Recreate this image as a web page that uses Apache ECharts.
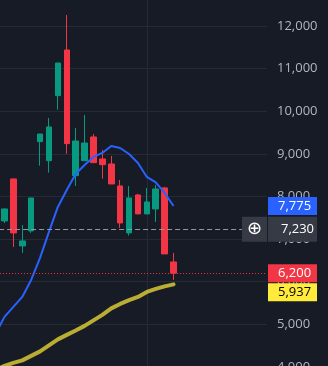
<!DOCTYPE html>
<html>
<head>
<meta charset="utf-8">
<script src="https://cdn.jsdelivr.net/npm/echarts@6/dist/echarts.min.js"></script>
<style>
html,body{margin:0;padding:0;background:#171b26;}
#chart{width:328px;height:366px;}
</style>
</head>
<body>
<div id="chart"></div>
<script>
// Candles (one per bar)
const openVals  = [7425, 8411, 6839, 7191, 9286, 8840, 10365, 11437, 8488, 8840, 9396, 8880, 8762, 8246, 7144, 8035, 7590, 7707, 8200, 6463];
const closeVals = [7707, 7144, 6956, 7965, 9466, 9631, 11132, 9239, 9302, 9255, 8793, 8746, 8293, 7378, 7965, 7590, 7871, 8176, 6651, 6200];
const lowVals   = [7378, 6815, 6675, 7144, 8723, 8558, 10036, 9004, 8246, 8840, 8793, 8418, 8293, 7261, 7080, 7590, 7590, 7402, 6651, 6041];
const highVals  = [7720, 8420, 7331, 7965, 9466, 9842, 11132, 12258, 9607, 9912, 9466, 9091, 8950, 8387, 8246, 8059, 8200, 8270, 8223, 6675];
// Moving averages: first value belongs to the bar just left of the visible window
const maFast = [4774, 5173, 5408, 5642, 6041, 6557, 7167, 7754, 8153, 8528, 8739, 8927, 9021, 9185, 9138, 8997, 8786, 8458, 8329, 8082, 7775];
const maSlow = [3930, 4024, 4094, 4153, 4258, 4364, 4505, 4645, 4751, 4856, 4962, 5091, 5220, 5373, 5478, 5565, 5642, 5760, 5830, 5889, 5937];
const emptyBarsRight = 10;
const yTicks = [3000, 4000, 5000, 6000, 7000, 8000, 9000, 10000, 11000, 12000, 13000];
const lastPrice = 6200;
const crosshairPrice = 7230;
const timeGridBar = 16;

const fmt = v => Number(v).toLocaleString('en-US');
const totalBars = 1 + openVals.length + emptyBarsRight;
const categories = Array.from({length: totalBars}, (_, i) => String(i - 1));
const candleData = [['-', '-', '-', '-']].concat(openVals.map((o, i) => [o, closeVals[i], lowVals[i], highVals[i]]));
const FONT = 'Open Sans';
const HIDDEN = 'rgba(0,0,0,0)';

function boxLabel(bg, fg, offY) {
  return {
    show: true, position: 'end', distance: 1, offset: [0, offY || 0],
    formatter: p => '{v|' + fmt(p.value) + '}',
    rich: { v: { backgroundColor: bg, color: fg, fontSize: 13, fontFamily: FONT, width: 39, height: 18, lineHeight: 18, padding: [0, 0, 0, 10], align: 'left' } }
  };
}

const chart = echarts.init(document.getElementById('chart'), null, {renderer: 'canvas'});
chart.setOption({
  animation: false,
  backgroundColor: '#171b26',
  grid: { left: -8.9, right: 61, top: -16.6, height: 426.1, containLabel: false, outerBoundsMode: 'none' },
  xAxis: {
    type: 'category', data: categories, boundaryGap: true,
    axisLine: {show: false}, axisTick: {show: false}, axisLabel: {show: false}, splitLine: {show: false}
  },
  yAxis: {
    type: 'value', position: 'right', min: yTicks[0], max: yTicks[yTicks.length - 1], interval: 1000,
    axisLine: {show: false}, axisTick: {show: false},
    axisLabel: { color: '#b2b5be', fontSize: 13, fontFamily: FONT, margin: 10, formatter: v => fmt(v) },
    splitLine: { lineStyle: { color: '#262a35', width: 1 } }
  },
  series: [
    {
      type: 'line', data: [], z: 0,
      markLine: {
        z: 1, silent: true, symbol: ['none', 'none'],
        label: {show: false},
        lineStyle: {color: '#262a35', width: 1, type: 'solid'},
        data: [{ xAxis: timeGridBar + 1 }]
      }
    },
    {
      type: 'candlestick', data: candleData, barWidth: 6, z: 2,
      itemStyle: { color: '#089981', color0: '#f23645', borderColor: '#089981', borderColor0: '#f23645', borderWidth: 1 },
      markLine: {
        z: 6, silent: true, symbol: ['none', 'none'],
        data: [
          { yAxis: maFast[maFast.length - 1], lineStyle: {color: HIDDEN, width: 1}, label: boxLabel('#2962ff', '#ffffff') },
          { yAxis: lastPrice, lineStyle: {color: '#f23645', width: 1, type: [1, 2]}, label: boxLabel('#f23645', '#ffffff') },
          { yAxis: maSlow[maSlow.length - 1], lineStyle: {color: HIDDEN, width: 1}, label: boxLabel('#ffeb3b', '#000000', 8) },
          { yAxis: crosshairPrice, lineStyle: {color: '#9598a1', width: 1, type: [5, 3]},
            label: {
              show: true, position: 'end', distance: 1, offset: [-26, 0],
              formatter: p => '{i|⊕}{s| }{v|' + fmt(p.value) + '}',
              rich: {
                i: { backgroundColor: '#363a45', color: '#ffffff', fontSize: 18, fontFamily: 'DejaVu Sans', width: 25, height: 25, lineHeight: 25, align: 'center' },
                s: { width: 1, height: 25 },
                v: { backgroundColor: '#363a45', color: '#ffffff', fontSize: 13, fontFamily: FONT, width: 39, height: 25, lineHeight: 25, padding: [0, 0, 0, 10], align: 'left' }
              }
            }
          }
        ]
      }
    },
    {
      type: 'line', data: maFast, showSymbol: false, z: 3,
      lineStyle: {color: '#2962ff', width: 2}
    },
    {
      type: 'line', data: maSlow, showSymbol: false, z: 3,
      lineStyle: {color: '#ffeb3b', width: 4, opacity: 0.7, cap: 'round'}
    }
  ]
});
</script>
</body>
</html>
